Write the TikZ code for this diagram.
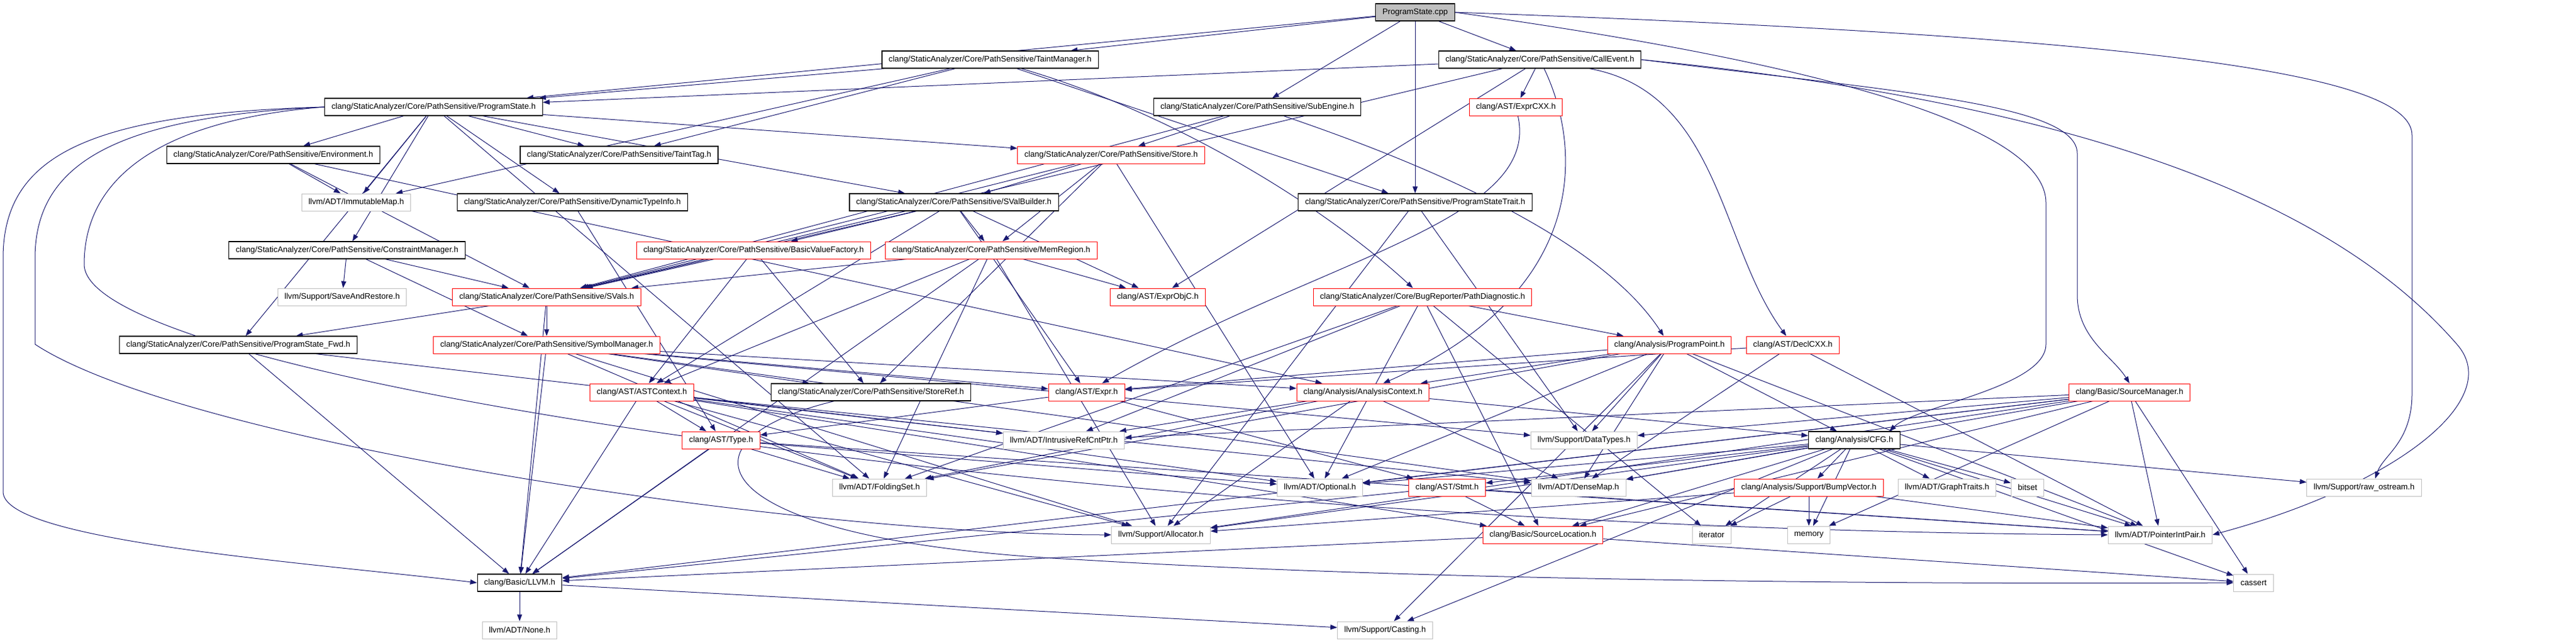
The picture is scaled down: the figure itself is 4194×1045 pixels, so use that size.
\documentclass[tikz,border=0pt]{standalone}
\usepackage{fontspec}
\setmainfont{Liberation Sans}
\usepackage{xcolor}
\usepackage{tikz}
\usetikzlibrary{arrows.meta}

\definecolor{edgeblue}{HTML}{191970}
\definecolor{sysgray}{HTML}{BFBFBF}
\pgfdeclarelayer{edgelayer}
\pgfsetlayers{edgelayer,main}

\begin{document}
\begin{tikzpicture}[
    x=1pt, y=-1pt,
    header/.style={rectangle, draw=black, fill=white, line width=1.2pt, inner xsep=11pt, inner ysep=0pt, minimum height=28pt, font=\fontsize{13.2}{15}\selectfont},
    root/.style={header, fill=sysgray},
    partial/.style={header, draw=red, line width=1pt},
    system/.style={header, draw=sysgray, line width=1pt},
    line/.style={draw=edgeblue, line width=1pt, -{Triangle[length=11pt, width=8pt]}}
]
\useasboundingbox (0,0) rectangle (4194,1045);

% files, row by row
\node [root] (cpp) at (2304,20) {ProgramState.cpp};
\node [header] (tmgr) at (1612,97) {clang/StaticAnalyzer/Core/PathSensitive/TaintManager.h};
\node [header] (call) at (2507,97) {clang/StaticAnalyzer/Core/PathSensitive/CallEvent.h};
\node [header] (pstate) at (706,174) {clang/StaticAnalyzer/Core/PathSensitive/ProgramState.h};
\node [header] (subeng) at (2047,174) {clang/StaticAnalyzer/Core/PathSensitive/SubEngine.h};
\node [partial] (exprcxx) at (2468,174) {clang/AST/ExprCXX.h};
\node [header] (env) at (445,252) {clang/StaticAnalyzer/Core/PathSensitive/Environment.h};
\node [header] (tag) at (1008,252) {clang/StaticAnalyzer/Core/PathSensitive/TaintTag.h};
\node [partial] (store) at (1809,252) {clang/StaticAnalyzer/Core/PathSensitive/Store.h};
\node [system] (imap) at (580,329) {llvm/ADT/ImmutableMap.h};
\node [header] (dti) at (932,329) {clang/StaticAnalyzer/Core/PathSensitive/DynamicTypeInfo.h};
\node [header] (svb) at (1553,329) {clang/StaticAnalyzer/Core/PathSensitive/SValBuilder.h};
\node [header] (trait) at (2304,329) {clang/StaticAnalyzer/Core/PathSensitive/ProgramStateTrait.h};
\node [header] (cmgr) at (565,407) {clang/StaticAnalyzer/Core/PathSensitive/ConstraintManager.h};
\node [partial] (bvf) at (1227,407) {clang/StaticAnalyzer/Core/PathSensitive/BasicValueFactory.h};
\node [partial] (memreg) at (1614,407) {clang/StaticAnalyzer/Core/PathSensitive/MemRegion.h};
\node [system] (sar) at (557,483) {llvm/Support/SaveAndRestore.h};
\node [partial] (svals) at (890,483) {clang/StaticAnalyzer/Core/PathSensitive/SVals.h};
\node [partial] (objc) at (1885,483) {clang/AST/ExprObjC.h};
\node [partial] (pdiag) at (2316,483) {clang/StaticAnalyzer/Core/BugReporter/PathDiagnostic.h};
\node [header] (fwd) at (388,561) {clang/StaticAnalyzer/Core/PathSensitive/ProgramState\_Fwd.h};
\node [partial] (symmgr) at (890,561) {clang/StaticAnalyzer/Core/PathSensitive/SymbolManager.h};
\node [partial] (ppoint) at (2718,561) {clang/Analysis/ProgramPoint.h};
\node [partial] (declcxx) at (2919,561) {clang/AST/DeclCXX.h};
\node [partial] (astctx) at (1045,638) {clang/AST/ASTContext.h};
\node [header] (storeref) at (1418,638) {clang/StaticAnalyzer/Core/PathSensitive/StoreRef.h};
\node [partial] (expr) at (1769,638) {clang/AST/Expr.h};
\node [partial] (actx) at (2219,638) {clang/Analysis/AnalysisContext.h};
\node [partial] (srcmgr) at (3467,638) {clang/Basic/SourceManager.h};
\node [partial] (type) at (1174,716) {clang/AST/Type.h};
\node [system] (irc) at (1732,716) {llvm/ADT/IntrusiveRefCntPtr.h};
\node [system] (dtypes) at (2579,716) {llvm/Support/DataTypes.h};
\node [header] (cfg) at (3019,716) {clang/Analysis/CFG.h};
\node [system] (fset) at (1432,793) {llvm/ADT/FoldingSet.h};
\node [system] (opt) at (2149,793) {llvm/ADT/Optional.h};
\node [partial] (stmt) at (2356,793) {clang/AST/Stmt.h};
\node [system] (dmap) at (2570,793) {llvm/ADT/DenseMap.h};
\node [partial] (bvec) at (2945,793) {clang/Analysis/Support/BumpVector.h};
\node [system] (gtraits) at (3170,793) {llvm/ADT/GraphTraits.h};
\node [system] (bitset) at (3301,793) {bitset};
\node [system] (rawos) at (3849,793) {llvm/Support/raw\_ostream.h};
\node [system] (alloc) at (1890,870) {llvm/Support/Allocator.h};
\node [partial] (sloc) at (2512,870) {clang/Basic/SourceLocation.h};
\node [system] (iter) at (2787,870) {iterator};
\node [system] (mem) at (2945,870) {memory};
\node [system] (pip) at (3517,870) {llvm/ADT/PointerIntPair.h};
\node [header] (llvmh) at (846,948) {clang/Basic/LLVM.h};
\node [system] (cassert) at (3669,948) {cassert};
\node [system] (none) at (846,1025) {llvm/ADT/None.h};
\node [system] (casting) at (2255,1025) {llvm/Support/Casting.h};

\begin{pgfonlayer}{edgelayer}
% ProgramState.cpp
\path [line] (cpp) -- (pstate);
\path [line] (cpp) -- (tmgr);
\path [line] (cpp) -- (subeng);
\path [line] (cpp) -- (trait);
\path [line] (cpp) -- (call);
\path [line] (cpp.east) .. controls (2800,80) and (3331,180) .. (3331,330) -- (3331,560) .. controls (3331,630) and (3120,660) .. ([xshift=-18pt]cfg.north east);
\path [line] (cpp.east) .. controls (3500,60) and (3927,120) .. (3927,220) -- (3927,640) .. controls (3927,720) and (3880,740) .. ([xshift=18pt]rawos.north);
% TaintManager.h
\path [line] (tmgr) -- (pstate);
\path [line] (tmgr) -- (tag);
\path [line] (tmgr) -- (imap);
\path [line] (tmgr) -- (trait);
\path [line] (tmgr) .. controls (1900,180) and (2150,330) .. (pdiag);
% CallEvent.h
\path [line] (call) -- (pstate);
\path [line] (call) -- (svals);
\path [line] (call) -- (objc);
\path [line] (call) -- (exprcxx);
\path [line] (call) .. controls (2580,250) and (2580,480) .. (actx);
\path [line] (call) .. controls (2800,150) and (2800,400) .. (declcxx);
\path [line] (call.east) .. controls (3100,150) and (3382,170) .. (3382,250) -- (3382,480) .. controls (3382,550) and (3440,580) .. (srcmgr.north);
\path [line] (call.east) .. controls (3400,170) and (3800,330) .. (4000,560) .. controls (4080,650) and (3900,790) .. (pip.east);
% ProgramState.h
\path [line] (pstate.west) .. controls (150,185) and (5,250) .. (5,420) -- (5,800) .. controls (5,880) and (500,915) .. (llvmh.west);
\path [line] (pstate.west) .. controls (200,190) and (57,260) .. (57,420) -- (57,560) .. controls (300,720) and (1300,870) .. (alloc.west);
\path [line] (pstate.west) .. controls (260,195) and (137,290) .. (137,430) .. controls (137,620) and (1800,860) .. (pip.west);
\path [line] (pstate) -- (cmgr);
\path [line] (pstate) -- (dti);
\path [line] (pstate) -- (env);
\path [line] (pstate) -- (fwd);
\path [line] (pstate) -- (svb);
\path [line] (pstate) -- (store);
\path [line] (pstate) -- (tag);
\path [line] (pstate) -- (fset);
\path [line] (pstate) -- (imap);
% SubEngine.h
\path [line] (subeng) -- (store);
\path [line] (subeng) -- (svals);
\path [line] (subeng) .. controls (2300,260) and (2600,380) .. (ppoint);
% ExprCXX.h, Environment.h, DynamicTypeInfo.h
\path [line] (exprcxx) .. controls (2510,360) and (2150,420) .. (expr);
\path [line] (env) -- (svals);
\path [line] (env) -- (actx);
\path [line] (env) -- (imap);
\path [line] (dti) -- (type);
% Store.h
\path [line] (store) -- (svb);
\path [line] (store) -- (memreg);
\path [line] (store) -- (svals);
\path [line] (store) -- (storeref);
\path [line] (store) -- (opt);
% SValBuilder.h
\path [line] (svb) -- (bvf);
\path [line] (svb) -- (memreg);
\path [line] (svb) -- (svals);
\path [line] (svb) -- (astctx);
\path [line] (svb) -- (expr);
\path [line] (svb) -- (objc);
% ProgramStateTrait.h
\path [line] (trait) -- (alloc);
\path [line] (trait) -- (dtypes);
% ConstraintManager.h
\path [line] (cmgr) -- (sar);
\path [line] (cmgr) -- (svals);
\path [line] (cmgr) -- (symmgr);
% BasicValueFactory.h
\path [line] (bvf) -- (svals);
\path [line] (bvf) -- (astctx);
\path [line] (bvf) -- (storeref);
% MemRegion.h
\path [line] (memreg) -- (svals);
\path [line] (memreg) -- (llvmh);
\path [line] (memreg) -- (astctx);
\path [line] (memreg) -- (fset);
\path [line] (memreg) -- (alloc);
\path [line] (memreg) -- (objc);
% SVals.h
\path [line] (svals) -- (fwd);
\path [line] (svals) -- (symmgr);
\path [line] (svals) -- (llvmh);
% SymbolManager.h
\path [line] (symmgr) -- (llvmh);
\path [line] (symmgr) -- (storeref);
\path [line] (symmgr) -- (expr);
\path [line] (symmgr) -- (actx);
\path [line] (symmgr) -- (dmap);
\path [line] (symmgr) -- (fset);
\path [line] (symmgr) -- (alloc);
\path [line] (symmgr) -- (dtypes);
% ProgramState_Fwd.h
\path [line] (fwd) -- (llvmh);
\path [line] (fwd) -- (irc);
% PathDiagnostic.h
\path [line] (pdiag) -- (ppoint);
\path [line] (pdiag) -- (sloc);
\path [line] (pdiag) -- (fset);
\path [line] (pdiag) -- (irc);
\path [line] (pdiag) -- (opt);
\path [line] (pdiag) -- (iter);
% ProgramPoint.h
\path [line] (ppoint) -- (actx);
\path [line] (ppoint) -- (cfg);
\path [line] (ppoint) -- (opt);
\path [line] (ppoint) -- (dmap);
\path [line] (ppoint) -- (fset);
\path [line] (ppoint) -- (pip);
\path [line] (ppoint) -- (casting);
\path [line] (ppoint) -- (dtypes);
\path [line] (ppoint) -- (expr);
% DeclCXX.h
\path [line] (declcxx) -- (expr);
\path [line] (declcxx) -- (pip);
\path [line] (declcxx) -- (dmap);
% AnalysisContext.h
\path [line] (actx) -- (cfg);
\path [line] (actx) -- (dmap);
\path [line] (actx) -- (fset);
\path [line] (actx) -- (irc);
\path [line] (actx) -- (alloc);
% SourceManager.h
\path [line] (srcmgr) -- (llvmh);
\path [line] (srcmgr) -- (sloc);
\path [line] (srcmgr) -- (alloc);
\path [line] (srcmgr) -- (dmap);
\path [line] (srcmgr) -- (irc);
\path [line] (srcmgr) -- (dtypes);
\path [line] (srcmgr) -- (pip);
\path [line] (srcmgr) -- (mem);
\path [line] (srcmgr) -- (cassert);
\path [line] (srcmgr) -- (opt);
% ASTContext.h
\path [line] (astctx) -- (type);
\path [line] (astctx) -- (fset);
\path [line] (astctx) -- (irc);
\path [line] (astctx) -- (alloc);
\path [line] (astctx) -- (dmap);
\path [line] (astctx) -- (llvmh);
\path [line] (astctx) -- (opt);
\path [line] (astctx) -- (sloc);
% StoreRef.h, Type.h, Expr.h, Stmt.h
\path [line] (storeref) .. controls (1080,720) and (1150,880) .. (1750,910) .. controls (2400,950) and (3300,950) .. (cassert.west);
\path [line] (type) -- (llvmh);
\path [line] (type) -- (fset);
\path [line] (type) -- (opt);
\path [line] (type) -- (pip);
\path [line] (expr) -- (type);
\path [line] (expr) -- (stmt);
\path [line] (stmt) -- (llvmh);
\path [line] (stmt) -- (sloc);
\path [line] (stmt) -- (pip);
% CFG.h
\path [line] (cfg) -- (stmt);
\path [line] (cfg) -- (bvec);
\path [line] (cfg) -- (sloc);
\path [line] (cfg) -- (dmap);
\path [line] (cfg) -- (gtraits);
\path [line] (cfg) -- (opt);
\path [line] (cfg) -- (pip);
\path [line] (cfg) -- (alloc);
\path [line] (cfg) -- (casting);
\path [line] (cfg) -- (rawos);
\path [line] (cfg) -- (bitset);
\path [line] (cfg) -- (cassert);
\path [line] (cfg) -- (iter);
\path [line] (cfg) -- (mem);
% BumpVector.h, SourceLocation.h, LLVM.h
\path [line] (bvec) -- (alloc);
\path [line] (bvec) -- (iter);
\path [line] (bvec) -- (mem);
\path [line] (bvec) -- (pip);
\path [line] (sloc) -- (llvmh);
\path [line] (sloc) -- (cassert);
\path [line] (llvmh) -- (none);
\path [line] (llvmh) -- (casting);
\end{pgfonlayer}

\end{tikzpicture}
\end{document}
